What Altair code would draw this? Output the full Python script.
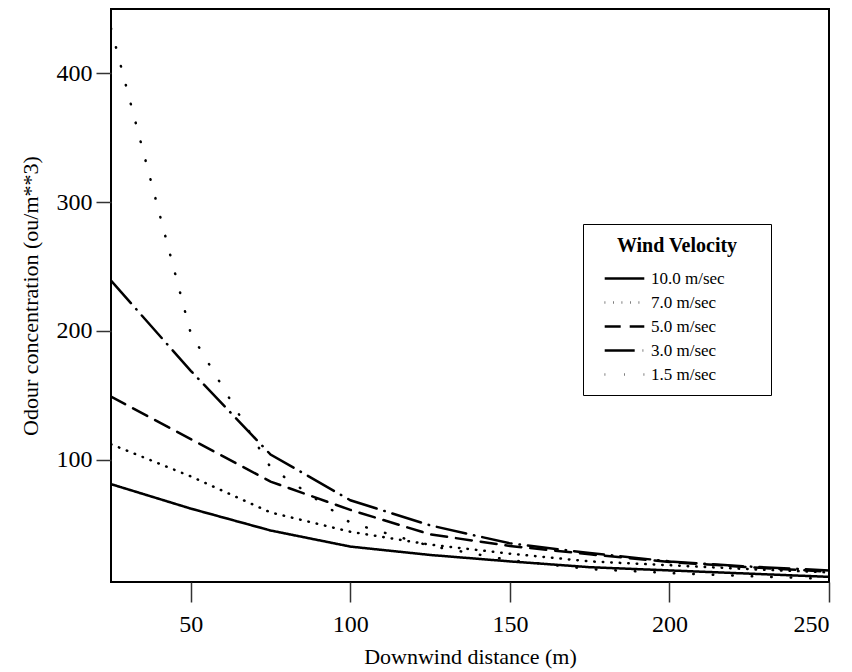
import altair as alt
import pandas as pd

distance = [25, 50, 75, 100, 125, 150, 175, 200, 225, 250]
v10_0 = [81, 62, 45, 32.5, 26, 21, 16.5, 14, 11.5, 9]
v7_0 = [112, 87, 59, 44, 34, 27, 21, 18, 15, 12.5]
v5_0 = [149, 116, 83, 61, 42, 33, 26.5, 20.5, 16.5, 13]
v3_0 = [239, 169, 104, 68.5, 49, 35, 27.5, 21, 17, 14]
v1_5 = [435, 198, 94, 51, 33, 22, 15, 12, 9.5, 7.5]

series_names = ["10.0 m/sec", "7.0 m/sec", "5.0 m/sec", "3.0 m/sec", "1.5 m/sec"]
series_values = [v10_0, v7_0, v5_0, v3_0, v1_5]

rows = []
for name, vals in zip(series_names, series_values):
    for d, v in zip(distance, vals):
        rows.append({"distance": d, "conc": v, "velocity": name})
df = pd.DataFrame(rows)

dashes = [[1, 0], [0.5, 8], [16, 9], [30, 8, 0.5, 8], [0.5, 19]]

FONT = "Liberation Serif"

chart = alt.Chart(df).mark_line(
    color="black", strokeWidth=2.5, strokeCap="round", clip=True
).encode(
    x=alt.X("distance:Q",
            scale=alt.Scale(domain=[25, 250], nice=False, zero=False),
            axis=alt.Axis(values=[50, 100, 150, 200, 250], title="Downwind distance (m)",
                          tickSize=20, labelPadding=10, titlePadding=10, format="d")),
    y=alt.Y("conc:Q",
            scale=alt.Scale(domain=[5, 450], nice=False, zero=False),
            axis=alt.Axis(values=[100, 200, 300, 400], title="Odour concentration (ou/m**3)",
                          tickSize=15, labelPadding=4, titlePadding=14, format="d")),
    strokeDash=alt.StrokeDash("velocity:N",
                              scale=alt.Scale(domain=series_names, range=dashes),
                              legend=alt.Legend(title="Wind Velocity", orient="none",
                                                legendX=472, legendY=215,
                                                symbolType="M-2.2,0L2.2,0", symbolSize=324,
                                                symbolOffset=19,
                                                symbolStrokeWidth=2.5, symbolStrokeColor="black",
                                                strokeColor="black", padding=12,
                                                rowPadding=5, labelOffset=16,
                                                labelExpr="datum.label + '\u2003\u2003\u200b'",
                                                titlePadding=12, titleAnchor="middle")),
    detail="velocity:N",
).properties(
    width=718, height=573,
    padding={"left": 103, "top": 1, "right": 15, "bottom": 88},
    autosize=alt.AutoSizeParams(type="none"),
).configure_view(
    stroke="black", strokeWidth=2
).configure_axis(
    domain=False, grid=False, tickColor="#333", tickWidth=1.5,
    labelFont=FONT, labelFontSize=24, labelColor="black",
    titleFont=FONT, titleFontSize=22, titleFontWeight="normal", titleColor="black",
).configure_legend(
    titleFont=FONT, titleFontSize=20, titleFontWeight="bold", titleColor="black",
    labelFont=FONT, labelFontSize=17, labelColor="black", fillColor="white",
)

chart.save("out.html", embed_options={"renderer": "svg", "actions": False})
